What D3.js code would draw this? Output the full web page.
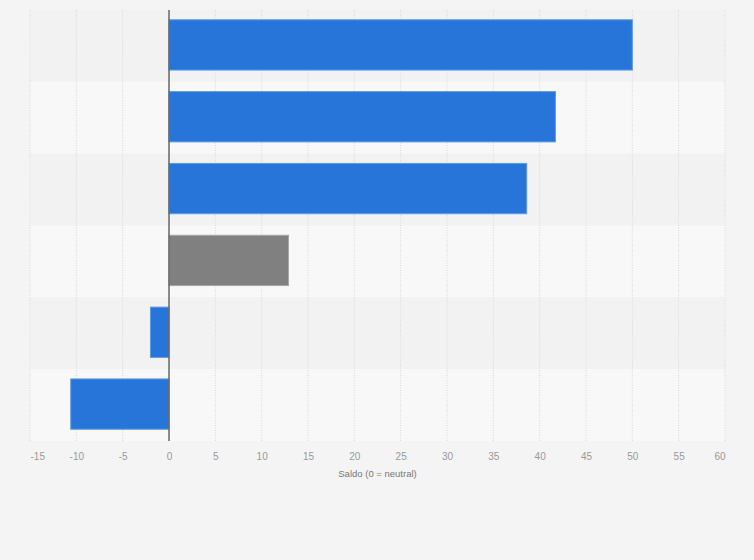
<!DOCTYPE html>
<html>
<head>
<meta charset="utf-8">
<script src="https://cdn.jsdelivr.net/npm/d3@7"></script>
<style>
  html, body { margin: 0; padding: 0; background: #f4f4f4; }
  svg { display: block; font-family: "Liberation Sans", Arial, sans-serif; }
</style>
</head>
<body>
<svg id="chart" width="754" height="560"></svg>
<script>
// categories (no visible labels in the source), values and bar colors
const categories = ["c1", "c2", "c3", "c4", "c5", "c6"];
const values = [50, 41.7, 38.6, 12.9, -2, -10.6];
const barColors = ["#2775d9", "#2775d9", "#2775d9", "#808080", "#2775d9", "#2775d9"];
const xTicks = [-15, -10, -5, 0, 5, 10, 15, 20, 25, 30, 35, 40, 45, 50, 55, 60];
const axisTitle = "Saldo (0 = neutral)";

const width = 754, height = 560;
const margin = { top: 10, right: 29, bottom: 119, left: 30 };

const svg = d3.select("#chart");

const x = d3.scaleLinear()
  .domain([-15, 60])
  .range([margin.left, width - margin.right]);

const y = d3.scaleBand()
  .domain(categories)
  .range([margin.top, height - margin.bottom]);

const data = categories.map((c, i) => ({ key: c, value: values[i], color: barColors[i] }));

// alternating row bands
svg.append("g").selectAll("rect").data(categories).join("rect")
  .attr("x", margin.left)
  .attr("y", d => y(d))
  .attr("width", x.range()[1] - margin.left)
  .attr("height", y.bandwidth())
  .attr("fill", (d, i) => i % 2 === 0 ? "#f2f2f2" : "#f8f8f8");

// vertical dotted grid
svg.append("g").selectAll("line").data(xTicks.filter(t => t !== 0)).join("line")
  .attr("x1", d => x(d)).attr("x2", d => x(d))
  .attr("y1", margin.top).attr("y2", height - margin.bottom)
  .attr("stroke", "#d8d8d8")
  .attr("stroke-width", 1)
  .attr("stroke-dasharray", "1,1.5");

// bars
const barH = y.bandwidth() * 0.7;
svg.append("g").selectAll("rect").data(data).join("rect")
  .attr("x", d => x(Math.min(0, d.value)))
  .attr("y", d => y(d.key) + (y.bandwidth() - barH) / 2 - 1)
  .attr("width", d => Math.abs(x(d.value) - x(0)))
  .attr("height", barH)
  .attr("fill", d => d.color)
  .attr("stroke", d => d.color === "#808080" ? "#a6a6a6" : "#5b9ae8")
  .attr("stroke-width", 1);

// zero line
svg.append("line")
  .attr("x1", x(0)).attr("x2", x(0))
  .attr("y1", margin.top).attr("y2", height - margin.bottom)
  .attr("stroke", "#666")
  .attr("stroke-width", 1.5);

// x axis labels (plain hyphen minus, edge labels kept inside the plot)
const gX = svg.append("g")
  .attr("transform", `translate(0,${height - margin.bottom})`)
  .call(d3.axisBottom(x).tickValues(xTicks).tickFormat(d => String(d)).tickSize(0).tickPadding(12));
gX.select(".domain").remove();
gX.selectAll("text")
  .attr("fill", "#999")
  .style("font-size", "10px")
  .attr("text-anchor", (d, i) => i === 0 ? "start" : i === xTicks.length - 1 ? "end" : "middle");

// axis title
svg.append("text")
  .attr("x", (x.range()[0] + x.range()[1]) / 2)
  .attr("y", height - margin.bottom + 36)
  .attr("text-anchor", "middle")
  .attr("fill", "#777")
  .style("font-size", "9.5px")
  .text(axisTitle);
</script>
</body>
</html>
